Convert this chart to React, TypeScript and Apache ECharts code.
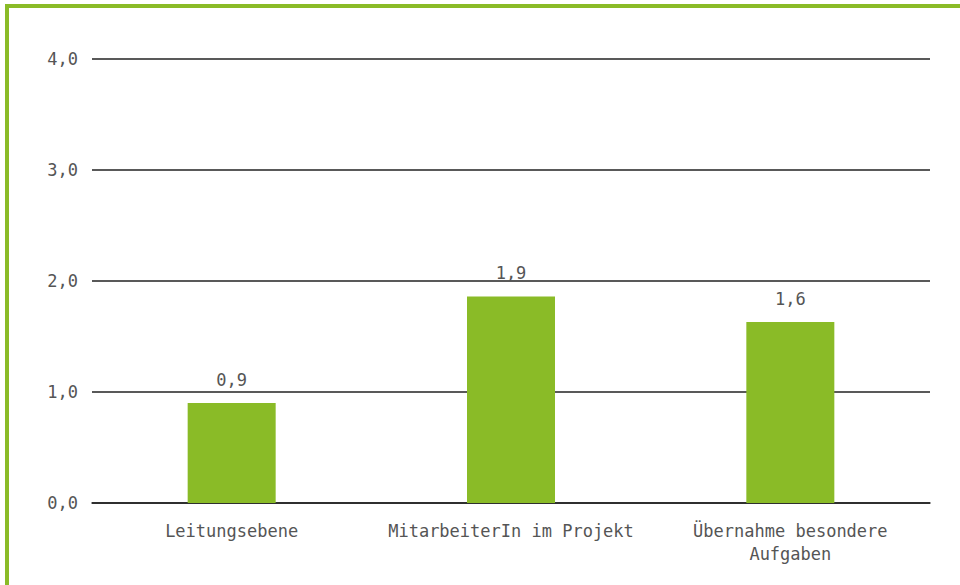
import React, { useEffect, useRef } from "react";
import * as echarts from "echarts";

const categories = ["Leitungsebene", "MitarbeiterIn im Projekt", "Übernahme besondere\nAufgaben"];
const values = [0.9, 1.86, 1.63];
const yTicks = [0, 1, 2, 3, 4];

const GREEN = "#8abb27";
const TEXT = "#555555";
const FONT = "DejaVu Sans Mono";

export default function App() {
  const ref = useRef<HTMLDivElement>(null);
  useEffect(() => {
    document.body.style.margin = "0";
    const chart = echarts.init(ref.current!, null, { renderer: "svg" });
    chart.setOption({
      animation: false,
      backgroundColor: "#ffffff",
      graphic: [
        { type: "rect", shape: { x: 5, y: 4, width: 955, height: 4 }, style: { fill: GREEN } },
        { type: "rect", shape: { x: 5, y: 4, width: 4, height: 581 }, style: { fill: GREEN } },
      ],
      grid: { left: 92, right: 30, top: 59, bottom: 82, containLabel: false },
      xAxis: {
        type: "category",
        data: categories,
        axisLine: { show: true, lineStyle: { color: "#222", width: 1.5 } },
        axisTick: { show: false },
        axisLabel: {
          color: TEXT,
          fontFamily: FONT,
          fontSize: 17,
          margin: 16,
          lineHeight: 23,
          interval: 0,
        },
      },
      yAxis: {
        type: "value",
        min: 0,
        max: yTicks[yTicks.length - 1],
        interval: 1,
        axisLine: { show: false },
        axisTick: { show: false },
        splitLine: { show: true, lineStyle: { color: "#222", width: 1.5 } },
        axisLabel: {
          color: TEXT,
          fontFamily: FONT,
          fontSize: 17,
          margin: 14,
          formatter: (v: number) => v.toFixed(1).replace(".", ","),
        },
      },
      series: [
        {
          type: "bar",
          data: values,
          barWidth: 88,
          itemStyle: { color: GREEN },
          label: {
            show: true,
            position: "top",
            distance: 15,
            color: TEXT,
            fontFamily: FONT,
            fontSize: 17,
            formatter: (p: any) => Number(p.value).toFixed(1).replace(".", ","),
          },
        },
      ],
    });
    return () => chart.dispose();
  }, []);
  return <div ref={ref} style={{ width: 960, height: 585 }} />;
}
